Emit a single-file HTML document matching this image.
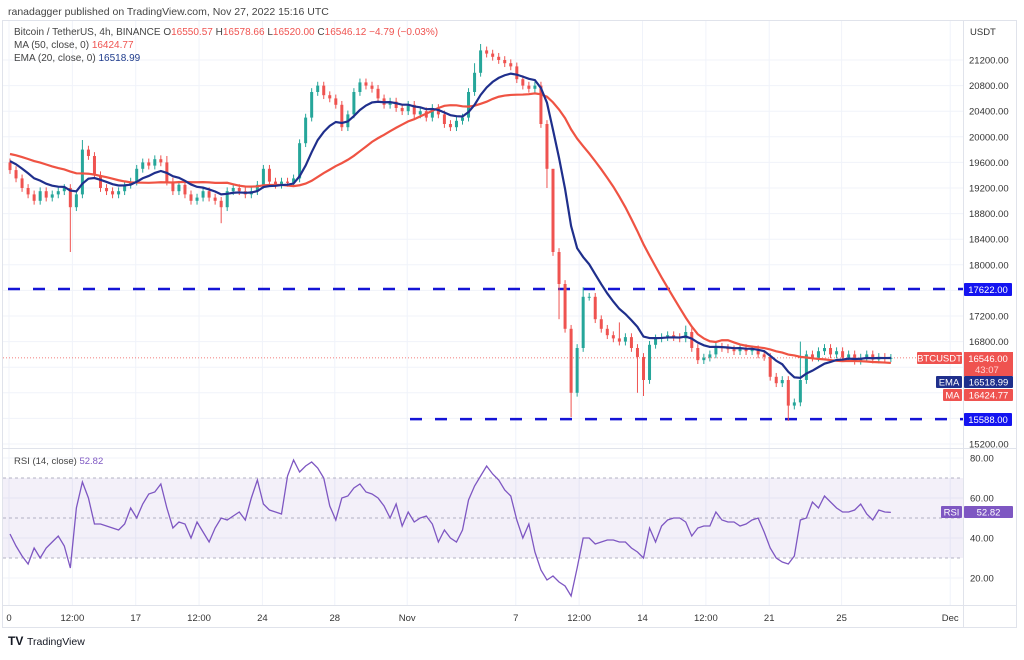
<!DOCTYPE html>
<html><head><meta charset="utf-8">
<style>
html,body{margin:0;padding:0;background:#fff;}
body{width:1024px;height:655px;overflow:hidden;font-family:"Liberation Sans",sans-serif;}
svg text{font-family:"Liberation Sans",sans-serif;}
</style></head>
<body>
<svg id="chart" width="1024" height="655" viewBox="0 0 1024 655" xmlns="http://www.w3.org/2000/svg">
<text x="8" y="15" font-size="10.5" fill="#444">ranadagger published on TradingView.com, Nov 27, 2022 15:16 UTC</text>
<rect x="2.5" y="20.5" width="1014" height="607" fill="none" stroke="#e0e3eb"/>
<g id="grid"></g>
<g id="levels"></g>
<g id="candles"></g>
<g id="inds"></g>
<g id="rsi"></g>
<g id="axes"></g>
<text x="14" y="35" font-size="10" fill="#444">Bitcoin / TetherUS, 4h, BINANCE <tspan fill="#444">O</tspan><tspan fill="#ef5350">16550.57</tspan> <tspan fill="#444">H</tspan><tspan fill="#ef5350">16578.66</tspan> <tspan fill="#444">L</tspan><tspan fill="#ef5350">16520.00</tspan> <tspan fill="#444">C</tspan><tspan fill="#ef5350">16546.12</tspan> <tspan fill="#ef5350">−4.79 (−0.03%)</tspan></text>
<text x="14" y="48" font-size="10" fill="#444">MA (50, close, 0) <tspan fill="#ef5350">16424.77</tspan></text>
<text x="14" y="61" font-size="10" fill="#444">EMA (20, close, 0) <tspan fill="#1f3c8c">16518.99</tspan></text>
<text x="14" y="464" font-size="9.5" fill="#444">RSI (14, close) <tspan fill="#7e57c2">52.82</tspan></text>
<g>
<text x="8" y="645" font-size="12" font-weight="bold" fill="#131722">TV</text>
<text x="27" y="645" font-size="10.5" fill="#131722">TradingView</text>
</g>
</svg>
<script>
const closes=[19480,19350,19200,19100,19000,19150,19050,19100,19150,19200,18900,19100,19800,19700,19400,19200,19150,19100,19150,19250,19300,19500,19600,19550,19650,19600,19300,19150,19250,19100,19000,19050,19150,19050,19000,18900,19150,19200,19150,19100,19150,19250,19500,19300,19250,19300,19280,19350,19900,20300,20700,20800,20650,20600,20500,20150,20350,20700,20850,20800,20750,20600,20500,20550,20450,20400,20500,20350,20400,20300,20450,20350,20200,20150,20250,20300,20700,21000,21350,21300,21250,21200,21150,21100,20900,20800,20750,20800,20200,19500,18200,17700,17000,16000,16700,17500,17500,17150,17000,16900,16850,16800,16870,16700,16560,16200,16750,16850,16870,16900,16870,16850,16950,16700,16510,16550,16600,16720,16700,16680,16650,16700,16650,16680,16600,16560,16250,16150,16200,15800,15850,16200,16600,16550,16650,16700,16600,16650,16550,16600,16500,16550,16600,16520,16560,16540,16546];
const preHistory=[19800,19850,19900,19850,19800,19750,19800,19850,19800,19750,19700,19800,19850,19800,19750,19700,19650,19700,19750,19700,19650,19600,19650,19600,19550];
const wickHighs={12:19950,26:19700,77:21150,78:21450,90:18400,95:17650,101:17100,112:17050,131:16800};
const wickLows={10:18200,35:18650,89:19200,91:17150,93:15620,104:16000,105:15950,129:15560};
const rsiValues=[42,36,31,27,35,30,35,38,41,36,25,55,68,60,47,47,46,45,44,47,55,50,57,62,63,67,55,45,48,47,40,48,43,38,45,50,49,51,53,49,60,69,57,54,53,52,71,79,73,76,78,75,70,56,49,60,61,65,67,63,62,60,56,50,57,46,53,48,50,51,47,38,44,40,38,44,59,66,71,76,72,69,64,61,49,40,47,33,24,19,21,18,16,11,25,40,40,37,38,39,39,38,38,35,33,30,45,38,46,49,50,50,48,41,45,46,46,53,49,48,48,46,47,49,50,43,35,30,28,27,31,49,50,58,55,61,58,55,53,53,54,57,52,49,54,53,52.82];
const priceTicks=[21200,20800,20400,20000,19600,19200,18800,18400,18000,17600,17200,16800,16400,16000,15600,15200];
const rsiTicks=[80,60,40,20];
const dateLabels=["0","12:00","17","12:00","24","28","Nov","7","12:00","14","12:00","21","25","Dec"];
const dateDays=[0,3.5,7,10.5,14,18,22,28,31.5,35,38.5,42,46,52];
const levels=[17622,15588];

const NS="http://www.w3.org/2000/svg";
function mk(tag,attrs,parent){const e=document.createElementNS(NS,tag);for(const k in attrs)e.setAttribute(k,attrs[k]);parent.appendChild(e);return e;}
const yP=p=>60+(21200-p)*0.064;
const xD=d=>9+d*18.1;
const xI=i=>xD(i/3)+1;
const yR=r=>458+(80-r)*2;
const G=document.getElementById('grid'),L=document.getElementById('levels'),C=document.getElementById('candles'),I=document.getElementById('inds'),R=document.getElementById('rsi'),A=document.getElementById('axes');

priceTicks.forEach(p=>{const l=mk('line',{x1:3,x2:963,y1:yP(p),y2:yP(p),stroke:'#f0f3fa'},G);

});
rsiTicks.forEach(r=>{const l=mk('line',{x1:3,x2:963,y1:yR(r),y2:yR(r),stroke:'#f0f3fa'},G);

});
dateDays.forEach(d=>{const l=mk('line',{x1:xD(d),x2:xD(d),y1:21,y2:605,stroke:'#f0f3fa'},G);

});
mk('line',{x1:3,x2:1016,y1:448.5,y2:448.5,stroke:'#e0e3eb'},A);
mk('line',{x1:3,x2:1016,y1:605.5,y2:605.5,stroke:'#e0e3eb'},A);
mk('line',{x1:963.5,x2:963.5,y1:21,y2:627,stroke:'#e0e3eb'},A);

const lv1=mk('line',{x1:8,x2:963,y1:yP(levels[0]),y2:yP(levels[0]),stroke:'#1414d6','stroke-width':2.5,'stroke-dasharray':'12 13'},L);


const lv2=mk('line',{x1:410,x2:963,y1:yP(levels[1]),y2:yP(levels[1]),stroke:'#1414d6','stroke-width':2.5,'stroke-dasharray':'12 13'},L);


const last=closes[closes.length-1];
mk('line',{x1:3,x2:963,y1:yP(last),y2:yP(last),stroke:'#ef5350','stroke-width':0.8,'stroke-dasharray':'1 2'},L);

closes.forEach((c,i)=>{
  const o=i===0?19600:closes[i-1];
  const up=c>=o;
  const col=up?'#26a69a':'#ef5350';
  const hi=wickHighs[i]!==undefined?wickHighs[i]:Math.max(o,c)+60;
  const lo=wickLows[i]!==undefined?wickLows[i]:Math.min(o,c)-60;
  const x=xI(i);
  const g=mk('g',{},C);
  
  
  mk('line',{x1:x,x2:x,y1:yP(hi),y2:yP(lo),stroke:col,'stroke-width':1},g);
  const t=yP(Math.max(o,c)),b=yP(Math.min(o,c));
  mk('rect',{x:x-1.5,y:t,width:3,height:Math.max(1,b-t),fill:col},g);
});

const all=preHistory.concat(closes);
const N=preHistory.length;
let ema=preHistory[0];const k=2/(10+1);const emaPts=[],maPts=[];
all.forEach((c,j)=>{ema=c*k+ema*(1-k);
  if(j>=N){const i=j-N;emaPts.push(xI(i)+','+yP(ema));
    const s=all.slice(j-24,j+1);const m=s.reduce((a,b)=>a+b,0)/s.length;maPts.push(xI(i)+','+yP(m));}});
const maL=mk('polyline',{points:maPts.join(' '),fill:'none',stroke:'#ef5343','stroke-width':2.2},I);


const emL=mk('polyline',{points:emaPts.join(' '),fill:'none',stroke:'#1f2f8c','stroke-width':2.2},I);



const band=mk('rect',{x:3,y:yR(70),width:960,height:yR(30)-yR(70),fill:'#7e57c2','fill-opacity':0.09},R);


[70,50,30].forEach(v=>{mk('line',{x1:3,x2:963,y1:yR(v),y2:yR(v),stroke:'#9b9bb0','stroke-dasharray':'3 3','stroke-width':0.8},R);});
const rl=mk('polyline',{points:rsiValues.map((r,i)=>xI(i)+','+yR(r)).join(' '),fill:'none',stroke:'#7e57c2','stroke-width':1.3},R);



const usd=mk('text',{x:970,y:35,'font-size':9.5,fill:'#333'},A);usd.textContent='USDT';
priceTicks.forEach(p=>{const t=mk('text',{x:969,y:yP(p)+3.5,'font-size':9.5,fill:'#333'},A);


t.textContent=p.toFixed(2);});
rsiTicks.forEach(r=>{const t=mk('text',{x:970,y:yR(r)+3.5,'font-size':9.5,fill:'#333'},A);


t.textContent=r.toFixed(2);});
dateLabels.forEach((s,i)=>{const t=mk('text',{x:xD(dateDays[i]),y:621,'font-size':9.5,fill:'#333','text-anchor':'middle'},A);


t.textContent=s;});

function tag(x,y,w,h,fill,txt,name,tc){const g=mk('g',{},A);


mk('rect',{x:x,y:y,width:w,height:h,fill:fill,rx:1},g);
const t=mk('text',{x:x+w/2,y:y+h/2+3.5,'font-size':9.5,fill:tc||'#fff','text-anchor':'middle'},g);t.textContent=txt;return g;}
tag(917,352,45,12,'#ef5350','BTCUSDT','btcusdt-tag');
const pt=mk('g',{},A);


mk('rect',{x:964,y:352,width:49,height:24,fill:'#ef5350'},pt);
let t1=mk('text',{x:988,y:362,'font-size':9.5,fill:'#fff','text-anchor':'middle'},pt);t1.textContent=last.toFixed(2);
let t2=mk('text',{x:975,y:373,'font-size':9.5,fill:'#ffd0d0'},pt);t2.textContent='43:07';
tag(936,376,26,12,'#1f2f8c','EMA','ema-tag');
tag(964,376,49,12,'#1f2f8c','16518.99','ema-value-tag');
tag(943,389,19,12,'#ef5350','MA','ma-tag');
tag(964,389,49,12,'#ef5350','16424.77','ma-value-tag');
tag(964,413,48,13,'#1414f0','15588.00','support-tag');
tag(964,283,48,13,'#1414f0','17622.00','resistance-tag');
tag(941,506,21,12,'#7e57c2','RSI','rsi-tag');
tag(964,506,49,12,'#7e57c2','52.82','rsi-value-tag');
</script>
</body></html>
